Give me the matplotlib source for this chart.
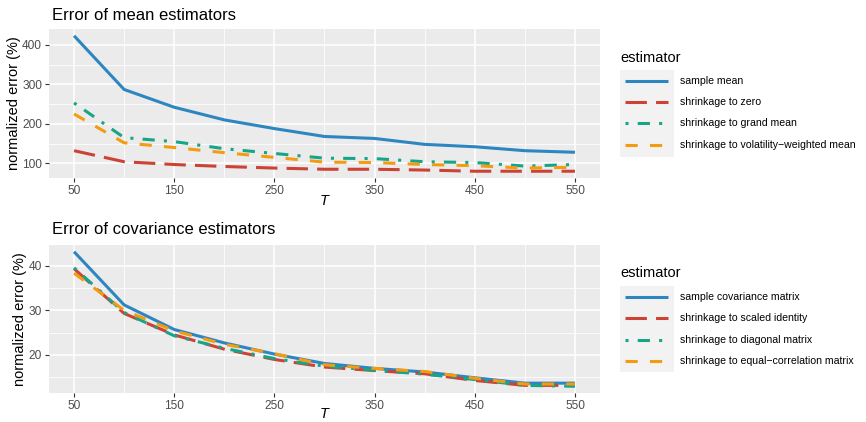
import matplotlib
matplotlib.use("Agg")
import matplotlib.pyplot as plt
from matplotlib.lines import Line2D
from matplotlib.patches import Rectangle
from matplotlib.ticker import MultipleLocator

plt.rcParams['font.family'] = ['Liberation Sans', 'DejaVu Sans']

T = [50, 100, 150, 200, 250, 300, 350, 400, 450, 500, 550]

mean_labels = ["sample mean", "shrinkage to zero", "shrinkage to grand mean",
               "shrinkage to volatility\u2212weighted mean"]
sample_mean = [423, 287, 242, 210, 188, 168, 163, 148, 142, 132, 128]
shrink_zero = [132, 104, 97, 92, 88, 85, 85, 83, 80, 80, 80]
shrink_grand = [253, 165, 155, 137, 125, 113, 112, 104, 102, 93, 97]
shrink_volw = [225, 152, 140, 127, 115, 103, 102, 97, 94, 88, 90]

cov_labels = ["sample covariance matrix", "shrinkage to scaled identity",
              "shrinkage to diagonal matrix", "shrinkage to equal\u2212correlation matrix"]
sample_cov = [43.1, 31.2, 25.7, 22.7, 20.2, 18.1, 17.0, 16.2, 14.9, 13.7, 13.7]
shrink_ident = [39.3, 29.3, 24.5, 21.3, 19.0, 17.3, 16.5, 15.8, 14.3, 13.2, 13.2]
shrink_diag = [39.5, 29.5, 24.3, 21.5, 19.2, 17.5, 16.6, 15.7, 14.5, 13.2, 13.0]
shrink_eqcor = [38.3, 30.0, 25.4, 22.4, 20.3, 17.8, 17.0, 16.3, 14.8, 13.5, 13.5]

colors = ["#2E86C1", "#CB4335", "#17A589", "#F39C12"]
dashes = [None, (7, 3), (1, 3, 4, 3), (4, 4)]
LW = 2.2

W, H = 866, 422
fig = plt.figure(figsize=(W / 100, H / 100), dpi=100)

def fx(px):
    return px / W

def fy(py):
    return 1 - py / H

def style_ax(ax, major, minor):
    ax.set_facecolor("#EBEBEB")
    for s in ax.spines.values():
        s.set_visible(False)
    ax.yaxis.set_major_locator(MultipleLocator(major))
    ax.yaxis.set_minor_locator(MultipleLocator(minor))
    ax.set_xticks([50, 150, 250, 350, 450, 550])
    ax.set_xticks([100, 200, 300, 400, 500], minor=True)
    ax.grid(which="major", color="white", lw=1.1)
    ax.grid(which="minor", color="white", lw=0.55)
    ax.set_axisbelow(True)
    ax.tick_params(which="major", length=3, width=0.8, color="#333333",
                   labelcolor="#4D4D4D", labelsize=8.6, pad=2)
    ax.tick_params(which="minor", length=0)
    ax.set_xlim(25, 575)

def draw_panel(ax, series, labels):
    for y, c, d, lab in zip(series, colors, dashes, labels):
        ln, = ax.plot(T, y, color=c, lw=LW, label=lab, solid_capstyle="butt",
                      dash_capstyle="butt")
        if d is not None:
            ln.set_dashes(d)

def draw_legend(title_y, box_top, box_bottom, rows_y, labels):
    fig.text(fx(620), fy(title_y), "estimator", fontsize=10.5, va="center",
             ha="left", color="black")
    fig.patches.append(Rectangle((fx(620), fy(box_bottom)), fx(674) - fx(620),
                                 fy(box_top) - fy(box_bottom),
                                 transform=fig.transFigure, facecolor="#F2F2F2",
                                 edgecolor="none", zorder=0))
    for y, c, d, lab in zip(rows_y, colors, dashes, labels):
        ln = Line2D([fx(625), fx(668)], [fy(y), fy(y)], transform=fig.transFigure,
                    color=c, lw=LW, solid_capstyle="butt", dash_capstyle="butt")
        if d is not None:
            ln.set_dashes(d)
        fig.lines.append(ln)
        fig.text(fx(680), fy(y), lab, fontsize=7.6, va="center", ha="left",
                 color="black")

# Top panel
ax1 = fig.add_axes([fx(49), fy(178), fx(600) - fx(49), fy(29) - fy(178)])
style_ax(ax1, 100, 50)
mean_series = [sample_mean, shrink_zero, shrink_grand, shrink_volw]
draw_panel(ax1, mean_series, mean_labels)
ymin = min(min(s) for s in mean_series)
ymax = max(max(s) for s in mean_series)
pad = (ymax - ymin) * 0.05
ax1.set_ylim(ymin - pad, ymax + pad)
ax1.set_ylabel("normalized error (%)", fontsize=10.5, labelpad=1)
fig.text(fx(324.5), fy(201), "T", fontsize=10.5, style="italic", ha="center", va="center")
fig.text(fx(52), fy(15), "Error of mean estimators", fontsize=12, va="center", ha="left")
draw_legend(58, 70, 157, [81, 102, 123, 145], mean_labels)

# Bottom panel
ax2 = fig.add_axes([fx(49), fy(393), fx(600) - fx(49), fy(245) - fy(393)])
style_ax(ax2, 10, 5)
cov = [sample_cov, shrink_ident, shrink_diag, shrink_eqcor]
draw_panel(ax2, cov, cov_labels)
ymin = min(min(s) for s in cov)
ymax = max(max(s) for s in cov)
pad = (ymax - ymin) * 0.05
ax2.set_ylim(ymin - pad, ymax + pad)
ax2.set_ylabel("normalized error (%)", fontsize=10.5, labelpad=1)
fig.text(fx(324.5), fy(414), "T", fontsize=10.5, style="italic", ha="center", va="center")
fig.text(fx(52), fy(230), "Error of covariance estimators", fontsize=12, va="center", ha="left")
draw_legend(273, 286, 372, [297, 318, 340, 361], cov_labels)

fig.savefig("out.png", dpi=100)
